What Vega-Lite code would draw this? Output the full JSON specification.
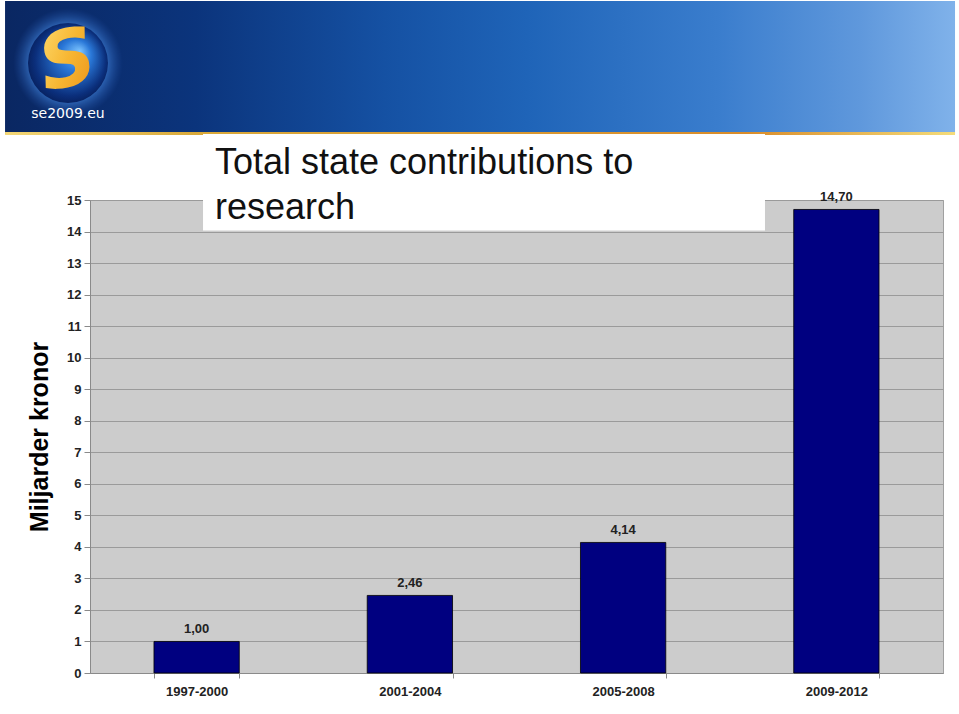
{
  "$schema": "https://vega.github.io/schema/vega-lite/v6.json",
  "padding": {"left": 5, "top": 0, "right": 4, "bottom": 0},
  "background": "white",
  "width": 853,
  "height": 473,
  "view": {"fill": "#cccccc", "stroke": "#a0a0a0"},
  "config": {
    "font": "Liberation Sans",
    "locale": {"number": {"decimal": ",", "thousands": "\u00a0", "grouping": [3], "currency": ["", " kr"]}},
    "axisY": {"tickCount": 15, "format": "d", "labelOverlap": false,
      "grid": true, "gridColor": "#9a9a9a", "gridWidth": 1,
      "domainColor": "#8a8a8a", "tickColor": "#8a8a8a", "tickSize": 6, "labelPadding": 3,
      "labelFontSize": 13, "labelFontWeight": "bold", "labelColor": "#222222",
      "titleFontSize": 25, "titleFontWeight": "bold", "titleColor": "#000000", "titlePadding": 14}
  },
  "data": {"values": [
    {"period": "1997-2000", "value": 1.00},
    {"period": "2001-2004", "value": 2.46},
    {"period": "2005-2008", "value": 4.14},
    {"period": "2009-2012", "value": 14.70}
  ]},
  "resolve": {"scale": {"x": "independent"}},
  "layer": [
    {
      "transform": [{"filter": "datum.period == '1997-2000'"}],
      "mark": {"type": "rect", "fill": {"gradient": "linear", "x1": 0, "y1": 0, "x2": 1, "y2": 0, "stops": [
        {"offset": 0, "color": "#0a2762"},
        {"offset": 0.2, "color": "#0b347c"},
        {"offset": 0.4, "color": "#1551a3"},
        {"offset": 0.55, "color": "#1f64b8"},
        {"offset": 0.75, "color": "#3a7dcd"},
        {"offset": 0.9, "color": "#5f98dc"},
        {"offset": 1, "color": "#80b2ea"}]}},
      "encoding": {
        "x": {"datum": -0.0996, "type": "quantitative", "scale": {"domain": [0, 1], "nice": false, "zero": false}, "axis": null},
        "x2": {"datum": 1.0141},
        "y": {"datum": 17.093, "type": "quantitative", "scale": {"domain": [0, 15], "nice": false}},
        "y2": {"datum": 21.311}
      }
    },
    {
      "transform": [{"filter": "datum.period == '1997-2000'"}],
      "mark": {"type": "rect", "fill": {"gradient": "linear", "x1": 0, "y1": 0, "x2": 1, "y2": 0, "stops": [
        {"offset": 0, "color": "#f3d777"},
        {"offset": 0.2, "color": "#d9a93a"},
        {"offset": 0.78, "color": "#d98c2a"},
        {"offset": 1, "color": "#f4dc7a"}]}},
      "encoding": {
        "x": {"datum": -0.0996, "type": "quantitative", "scale": {"domain": [0, 1], "nice": false, "zero": false}, "axis": null},
        "x2": {"datum": 1.0141},
        "y": {"datum": 17.061, "type": "quantitative", "scale": {"domain": [0, 15], "nice": false}},
        "y2": {"datum": 17.156}
      }
    },
    {
      "transform": [{"filter": "datum.period == '1997-2000'"}],
      "mark": {"type": "circle", "size": 12000, "opacity": 1, "fill": {"gradient": "radial", "x1": 0.5, "y1": 0.5, "r1": 0, "x2": 0.5, "y2": 0.5, "r2": 0.5, "stops": [
        {"offset": 0, "color": "rgba(90,160,240,0.8)"},
        {"offset": 0.7, "color": "rgba(70,140,230,0.6)"},
        {"offset": 1, "color": "rgba(40,90,180,0)"}]}},
      "encoding": {
        "x": {"datum": -0.0258, "type": "quantitative", "scale": {"domain": [0, 1], "nice": false, "zero": false}, "axis": null},
        "y": {"datum": 19.345, "type": "quantitative", "scale": {"domain": [0, 15], "nice": false}}
      }
    },
    {
      "transform": [{"filter": "datum.period == '1997-2000'"}],
      "mark": {"type": "circle", "size": 6400, "opacity": 1, "fill": {"gradient": "radial", "x1": 0.65, "y1": 0.35, "r1": 0, "x2": 0.5, "y2": 0.5, "r2": 0.55, "stops": [
        {"offset": 0, "color": "#7cc4ff"},
        {"offset": 0.35, "color": "#2a78d8"},
        {"offset": 0.8, "color": "#0b2f7c"},
        {"offset": 1, "color": "#061c55"}]}},
      "encoding": {
        "x": {"datum": -0.0258, "type": "quantitative", "scale": {"domain": [0, 1], "nice": false, "zero": false}, "axis": null},
        "y": {"datum": 19.345, "type": "quantitative", "scale": {"domain": [0, 15], "nice": false}}
      }
    },
    {
      "transform": [{"filter": "datum.period == '1997-2000'"}],
      "mark": {"type": "text", "text": "S", "font": "DejaVu Sans", "fontWeight": "bold", "fontStyle": "italic", "fontSize": 78, "align": "center", "baseline": "middle", "angle": -12,
        "fill": {"gradient": "linear", "x1": 0, "y1": 0, "x2": 1, "y2": 1, "stops": [
          {"offset": 0, "color": "#ffe27a"},
          {"offset": 0.5, "color": "#f7b733"},
          {"offset": 1, "color": "#e88a12"}]}},
      "encoding": {
        "x": {"datum": -0.0258, "type": "quantitative", "scale": {"domain": [0, 1], "nice": false, "zero": false}, "axis": null},
        "y": {"datum": 19.345, "type": "quantitative", "scale": {"domain": [0, 15], "nice": false}}
      }
    },
    {
      "transform": [{"filter": "datum.period == '1997-2000'"}],
      "mark": {"type": "text", "text": "se2009.eu", "fontSize": 14, "fill": "white", "align": "center", "baseline": "alphabetic", "font": "DejaVu Sans"},
      "encoding": {
        "x": {"datum": -0.0258, "type": "quantitative", "scale": {"domain": [0, 1], "nice": false, "zero": false}, "axis": null},
        "y": {"datum": 17.60, "type": "quantitative", "scale": {"domain": [0, 15], "nice": false}}
      }
    },
    {
      "mark": {"type": "bar", "fill": "#000080", "stroke": "#000000", "strokeWidth": 0.8},
      "encoding": {
        "x": {"field": "period", "type": "nominal", "sort": null,
          "scale": {"paddingInner": 0.6, "paddingOuter": 0.3},
          "axis": {"title": null, "labelAngle": 0, "tickBand": "extent", "tickSize": 5, "labelPadding": 7,
            "labelFontSize": 13, "labelFontWeight": "bold", "labelColor": "#222222",
            "domainColor": "#8a8a8a", "tickColor": "#8a8a8a", "grid": false}},
        "y": {"field": "value", "type": "quantitative",
          "scale": {"domain": [0, 15], "nice": false},
          "axis": {"title": "Miljarder kronor", "tickCount": 15, "format": "d"}}
      }
    },
    {
      "mark": {"type": "text", "dy": -8, "baseline": "alphabetic", "fontSize": 13, "fontWeight": "bold", "fill": "#222222"},
      "encoding": {
        "x": {"field": "period", "type": "nominal", "sort": null,
          "scale": {"paddingInner": 0.6, "paddingOuter": 0.3}, "axis": null},
        "y": {"field": "value", "type": "quantitative", "scale": {"domain": [0, 15], "nice": false}},
        "text": {"field": "value", "type": "quantitative", "format": ".2f"}
      }
    },
    {
      "transform": [{"filter": "datum.period == '1997-2000'"}],
      "mark": {"type": "rect", "fill": "white"},
      "encoding": {
        "x": {"datum": 0.1325, "type": "quantitative", "scale": {"domain": [0, 1], "nice": false, "zero": false}, "axis": null},
        "x2": {"datum": 0.7913},
        "y": {"datum": 14.03, "type": "quantitative", "scale": {"domain": [0, 15], "nice": false}},
        "y2": {"datum": 17.093}
      }
    },
    {
      "transform": [{"filter": "datum.period == '1997-2000'"}],
      "mark": {"type": "text", "text": ["Total state contributions to", "research"], "align": "left", "baseline": "alphabetic", "fontSize": 36, "lineHeight": 45, "fill": "#111111"},
      "encoding": {
        "x": {"datum": 0.1465, "type": "quantitative", "scale": {"domain": [0, 1], "nice": false, "zero": false}, "axis": null},
        "y": {"datum": 15.825, "type": "quantitative", "scale": {"domain": [0, 15], "nice": false}}
      }
    }
  ]
}
